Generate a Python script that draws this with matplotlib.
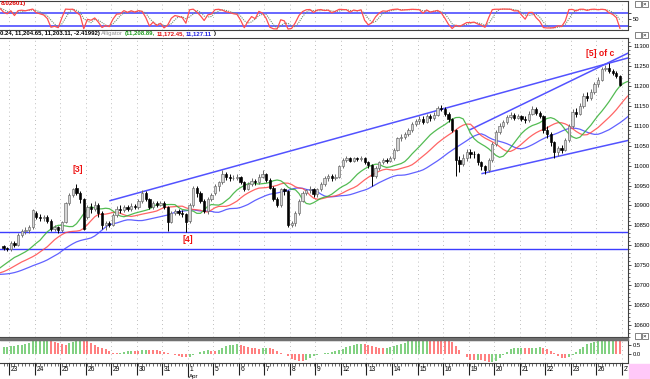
import numpy as np
import pandas as pd
import matplotlib
matplotlib.use("Agg")
import matplotlib.pyplot as plt
from matplotlib.patches import Rectangle

plt.rcParams['font.family'] = ['Liberation Sans', 'DejaVu Sans']

# hourly bars, Mar 22 (last 2 bars) .. Apr 26
opens = [10798, 10792,
         10790, 10805, 10800, 10825, 10835, 10838, 10845,   # Mar 23
         10880, 10872, 10868, 10870, 10862, 10840, 10845,   # Mar 24
         10838, 10858, 10905, 10925, 10945, 10930, 10915,   # Mar 25
         10870, 10895, 10890, 10902, 10880, 10850, 10855,   # Mar 26
         10852, 10875, 10892, 10888, 10895, 10890, 10898,   # Mar 29
         10895, 10910, 10930, 10915, 10895, 10905, 10900,   # Mar 30
         10905, 10895, 10858, 10880, 10885, 10882, 10878,   # Mar 31
         10860, 10900, 10945, 10930, 10910, 10885, 10915,   # Apr 1
         10930, 10950, 10958, 10980, 10972, 10968, 10970,   # Apr 5
         10972, 10960, 10942, 10955, 10962, 10958, 10972,   # Apr 6
         10978, 10965, 10945, 10915, 10900, 10940, 10935,   # Apr 7
         10852, 10855, 10880, 10912, 10930, 10938, 10942,   # Apr 8
         10928, 10940, 10955, 10968, 10975, 10968, 10972,   # Apr 9
         10998, 11015, 11018, 11012, 11018, 11016, 11020,   # Apr 12
         11008, 11002, 10975, 10995, 11008, 11015, 11012,   # Apr 13
         11018, 11040, 11068, 11072, 11078, 11090, 11105,   # Apr 14
         11112, 11118, 11110, 11125, 11120, 11128, 11145,   # Apr 15
         11142, 11130, 11118, 11090, 11015, 11005, 11020,   # Apr 16
         11035, 11030, 11028, 11008, 10998, 10988, 11015,   # Apr 19
         11055, 11085, 11100, 11110, 11122, 11128, 11120,   # Apr 20
         11125, 11118, 11115, 11130, 11142, 11132, 11125,   # Apr 21
         11090, 11078, 11060, 11035, 11045, 11040, 11065,   # Apr 22
         11100, 11135, 11130, 11150, 11175, 11170, 11185,   # Apr 23
         11205, 11215, 11242, 11245, 11238, 11232, 11225]   # Apr 26
highs = [10802, 10797,
         10810, 10812, 10830, 10840, 10845, 10850, 10892,
         10885, 10878, 10876, 10875, 10865, 10850, 10848,
         10862, 10908, 10930, 10945, 10953, 10935, 10918,
         10900, 10905, 10912, 10905, 10885, 10860, 10862,
         10880, 10898, 10900, 10902, 10900, 10905, 10904,
         10915, 10938, 10935, 10918, 10910, 10910, 10910,
         10910, 10898, 10885, 10892, 10890, 10888, 10882,
         10905, 10950, 10948, 10935, 10915, 10920, 10930,
         10955, 10962, 10990, 10984, 10978, 10976, 10978,
         10975, 10962, 10960, 10968, 10966, 10978, 10990,
         10982, 10968, 10948, 10920, 10945, 10945, 10938,
         10862, 10885, 10916, 10936, 10942, 10948, 10945,
         10945, 10960, 10975, 10980, 10980, 10978, 11002,
         11020, 11023, 11022, 11022, 11022, 11024, 11022,
         11012, 11005, 11000, 11012, 11020, 11020, 11024,
         11045, 11072, 11080, 11084, 11095, 11110, 11118,
         11124, 11124, 11130, 11130, 11135, 11150, 11152,
         11148, 11135, 11120, 11092, 11025, 11028, 11042,
         11042, 11036, 11032, 11012, 11002, 11020, 11060,
         11090, 11106, 11115, 11128, 11135, 11132, 11130,
         11128, 11124, 11136, 11150, 11146, 11138, 11128,
         11100, 11085, 11062, 11050, 11052, 11070, 11105,
         11142, 11145, 11156, 11182, 11185, 11192, 11210,
         11222, 11248, 11252, 11258, 11242, 11236, 11228]
lows = [10788, 10785,
        10786, 10795, 10798, 10820, 10828, 10832, 10842,
        10865, 10860, 10862, 10855, 10835, 10835, 10832,
        10834, 10855, 10900, 10920, 10925, 10905, 10838,
        10865, 10882, 10885, 10870, 10840, 10838, 10845,
        10848, 10870, 10882, 10884, 10885, 10886, 10890,
        10890, 10905, 10910, 10890, 10890, 10895, 10898,
        10890, 10835, 10855, 10875, 10876, 10870, 10834,
        10855, 10895, 10922, 10905, 10880, 10878, 10910,
        10925, 10935, 10955, 10965, 10962, 10963, 10965,
        10955, 10936, 10938, 10950, 10952, 10955, 10968,
        10960, 10940, 10910, 10895, 10895, 10925, 10845,
        10845, 10848, 10876, 10908, 10925, 10932, 10922,
        10922, 10935, 10950, 10962, 10962, 10963, 10968,
        10995, 11010, 11008, 11010, 11012, 11012, 11004,
        10995, 10950, 10968, 10990, 11004, 11006, 11008,
        11015, 11036, 11062, 11066, 11074, 11085, 11100,
        11105, 11104, 11106, 11112, 11114, 11124, 11136,
        11125, 11110, 11085, 10975, 10985, 10998, 11012,
        11020, 11018, 11002, 10990, 10980, 10984, 11010,
        11050, 11080, 11095, 11105, 11118, 11115, 11116,
        11112, 11108, 11110, 11126, 11126, 11120, 11082,
        11070, 11050, 11020, 11025, 11032, 11036, 11060,
        11095, 11122, 11126, 11145, 11162, 11165, 11180,
        11198, 11212, 11236, 11232, 11226, 11220, 11200]
closes = [10792, 10790,
          10805, 10800, 10825, 10835, 10838, 10845, 10888,
          10872, 10868, 10870, 10862, 10840, 10845, 10838,
          10858, 10905, 10925, 10940, 10930, 10915, 10842,
          10895, 10890, 10902, 10880, 10850, 10855, 10850,
          10875, 10892, 10888, 10895, 10890, 10898, 10895,
          10910, 10930, 10915, 10895, 10905, 10900, 10905,
          10895, 10858, 10880, 10885, 10882, 10878, 10858,
          10900, 10945, 10930, 10910, 10885, 10915, 10925,
          10950, 10958, 10980, 10972, 10968, 10970, 10972,
          10960, 10942, 10955, 10962, 10958, 10972, 10978,
          10965, 10945, 10915, 10900, 10940, 10935, 10852,
          10855, 10880, 10912, 10930, 10938, 10942, 10928,
          10940, 10955, 10968, 10975, 10968, 10972, 10998,
          11015, 11018, 11012, 11018, 11016, 11020, 11008,
          11002, 10975, 10995, 11008, 11015, 11012, 11018,
          11040, 11068, 11072, 11078, 11090, 11105, 11112,
          11118, 11110, 11125, 11120, 11128, 11145, 11142,
          11130, 11118, 11090, 11015, 11005, 11020, 11035,
          11030, 11028, 11008, 10998, 10988, 11015, 11055,
          11085, 11100, 11110, 11122, 11128, 11120, 11125,
          11118, 11115, 11130, 11142, 11132, 11125, 11090,
          11078, 11060, 11035, 11045, 11040, 11065, 11100,
          11135, 11130, 11150, 11175, 11170, 11185, 11205,
          11215, 11242, 11245, 11238, 11232, 11225, 11203]

# earlier bars (off the left edge), estimated from where the lines enter
pre_median = [10730, 10726, 10722, 10725, 10728, 10724, 10720, 10723, 10727,
              10730, 10726, 10722, 10725, 10729, 10732, 10728, 10724, 10727,
              10733, 10738, 10745, 10755, 10766, 10776, 10784, 10790]

day_labels = ['23', '24', '25', '26', '29', '30', '31', '1', '5', '6', '7', '8',
              '9', '12', '13', '14', '15', '16', '19', '20', '21', '22', '23',
              '26', '27']
price_ticks = list(range(10600, 11301, 50))

levels = [10834, 10790]
trend_lines = [((29.2, 10912), (171.2, 11270)),
               ((127.9, 11090), (171.2, 11282)),
               ((131.2, 10980), (171.2, 11063))]
wave_labels = [('[3]', 20.3, 10989), ('[4]', 50.4, 10815), ('[5] of c', 163.5, 11280)]

header = "0.24, 11,204.65, 11,203.11, -2.41992)"
alligator_vals = ['(11,208.89,', '11,172.45,', '11,127.11']
stoch_last = "8.02601)"

W, H = 650, 379


def box(x0, y0, x1, y1):
    return [x0 / W, 1 - y1 / H, (x1 - x0) / W, (y1 - y0) / H]


o = np.array(opens, float)
h = np.array(highs, float)
l = np.array(lows, float)
c = np.array(closes, float)
n = len(c)
x = np.arange(n)
xlim = (-0.965, 171.2)
day_x = 1.5 + 7 * np.arange(len(day_labels))

blue = '#4646ff'
red = '#ff4a4a'
green = '#35b035'
grid_kw = dict(color='#a8a8a8', lw=0.6, ls=(0, (1, 4)), zorder=0)

fig = plt.figure(figsize=(6.5, 3.79), dpi=100)
fig.patch.set_facecolor('white')


def style(ax):
    ax.set_xlim(*xlim)
    ax.set_xticks([])
    ax.spines['left'].set_visible(False)
    for s in ['top', 'bottom', 'right']:
        ax.spines[s].set_color('#404040')
        ax.spines[s].set_linewidth(0.8)
    ax.yaxis.tick_right()
    ax.tick_params(axis='y', labelsize=4.2, length=2.5, width=0.5, pad=1.2, colors='black')
    for dx in day_x:
        ax.axvline(dx, **grid_kw)


# ---- stochastic panel
med_all = np.concatenate([pre_median, (h + l) / 2])
P = len(pre_median)
hi_all = pd.Series(np.concatenate([pre_median, h]))
lo_all = pd.Series(np.concatenate([pre_median, l]))
cl_all = pd.Series(np.concatenate([pre_median, c]))
hh = hi_all.rolling(7, min_periods=1).max()
ll = lo_all.rolling(7, min_periods=1).min()
k = (100 * (cl_all - ll) / (hh - ll).replace(0, np.nan)).fillna(50)
d = k.rolling(3, min_periods=1).mean()
xa = np.arange(len(med_all)) - P

ax_s = fig.add_axes(box(0, 1, 628, 29.5))
style(ax_s)
ax_s.set_ylim(3, 133)
ax_s.axhline(80, color='#5a5aff', lw=1.3, zorder=1)
ax_s.axhline(20, color='#5a5aff', lw=1.3, zorder=1)
ax_s.plot(xa, d, color='#6f8f6f', lw=0.8, ls=(0, (1, 1)), zorder=2)
ax_s.plot(xa, k, color='#ff5050', lw=0.9, zorder=3)
ax_s.set_yticks([20, 50, 80])
ax_s.set_yticklabels(['', '50', ''])
fig.text(1 / W, 1 - 3.5 / H, stoch_last, color='#e00000', fontsize=4.6, weight='bold', va='center')

# ---- header strip, pieces placed one after the other
fs = 4.3
renderer = fig.canvas.get_renderer()
pieces = [(header, 'black', 'bold'), ('Alligator', '#909090', 'normal')]
pieces += list(zip(alligator_vals, ['#1a9a1a', '#e01010', '#2020e0'], ['bold'] * 3))
pieces += [(')', 'black', 'bold')]
xp = 0.0
for txt, col, wt in pieces:
    t = fig.text(xp / W, 1 - 34 / H, txt, fontsize=fs, color=col, weight=wt, va='center')
    xp = t.get_window_extent(renderer).x1 + 1.5

# ---- main price panel
ax = fig.add_axes(box(0, 38, 628, 337))
style(ax)
ax.set_ylim(10570, 11320)
ax.set_yticks(price_ticks)
ax.set_yticklabels([str(t) for t in price_ticks])
ax.set_yticks(range(10570, 11320, 10), minor=True)
ax.tick_params(axis='y', which='minor', length=1.2, width=0.4)

for lv in levels:
    ax.axhline(lv, color='#3c3cff', lw=1.0, zorder=2)
for (x0, y0), (x1, y1) in trend_lines:
    ax.plot([x0, x1], [y0, y1], color='#5252ff', lw=1.1, zorder=2)

s = pd.Series(med_all)
for per, shift, col in [(13, 8, blue), (8, 5, red), (5, 3, green)]:
    sm = s.ewm(alpha=1 / per, adjust=False).mean().to_numpy()
    ax.plot(xa + shift, sm, color=col, lw=0.9, alpha=0.85, zorder=3)

up = c >= o
bot = np.minimum(o, c)
body = np.maximum(np.abs(c - o), 1.6)
ax.vlines(x[up], l[up], h[up], color='#6a6a6a', lw=0.7, zorder=4)
ax.vlines(x[~up], l[~up], h[~up], color='black', lw=0.7, zorder=4)
ax.bar(x[up], body[up], bottom=bot[up], width=0.62, color='#d6d6d6',
       edgecolor='#666666', lw=0.45, zorder=5)
ax.bar(x[~up], body[~up], bottom=bot[~up], width=0.62, color='black',
       edgecolor='black', lw=0.45, zorder=5)

for txt, xi, yp in wave_labels:
    ax.text(xi, yp, txt, color='#ee1010', fontsize=6.2, weight='bold',
            ha='center', va='center', zorder=6)

# separator
fig.patches.append(Rectangle((0, 1 - 339.5 / H), 628 / W, 2 / H, transform=fig.transFigure,
                             color='#707070', zorder=0))

# ---- histogram panel
sma5 = s.rolling(5, min_periods=1).mean()
sma34 = s.rolling(34, min_periods=1).mean()
ao = ((sma5 - sma34) / sma34 * 100).to_numpy()[P:]
rising = np.diff(ao, prepend=ao[0] - 1) >= 0

ax_h = fig.add_axes(box(0, 340, 628, 363))
style(ax_h)
ax_h.set_ylim(-0.5, 0.8)
ax_h.vlines(x[rising], 0, ao[rising], color='#5cc45c', lw=1.1, zorder=2)
ax_h.vlines(x[~rising], 0, ao[~rising], color='#ff5a5a', lw=1.1, zorder=2)
ax_h.set_yticks([0, 0.5])
ax_h.set_yticklabels(['0.0', '0.5'])

# ---- date axis
ax_d = fig.add_axes(box(0, 363, 628, 379))
ax_d.set_xlim(*xlim)
ax_d.set_ylim(16, 0)
ax_d.axis('off')
ax_d.vlines(x, 0, 2.5, color='#303030', lw=0.5)
for dx, lab in zip(day_x, day_labels):
    ax_d.vlines(dx, 0, 12 if lab != '1' else 14, color='#202020', lw=0.8)
    ax_d.text(dx + 0.5, 6.5, lab, fontsize=4.8, va='center', ha='left', clip_on=True)
ax_d.text(day_x[7] + 0.3, 13.8, 'Apr', fontsize=4.4, va='center', ha='left')

# pink corner and small window buttons
fig.patches.append(Rectangle((629 / W, 0), 21 / W, 15 / H, transform=fig.transFigure,
                             color='#ffc8f8', zorder=0))
for yb in [1, 32, 333]:
    for xb in [635, 642]:
        fig.patches.append(Rectangle((xb / W, 1 - (yb + 5.5) / H), 5.5 / W, 5.5 / H,
                                     transform=fig.transFigure, facecolor='white',
                                     edgecolor='#505050', lw=0.5))
    fig.text(644.8 / W, 1 - (yb + 2.9) / H, '×', fontsize=4.5, ha='center', va='center')

fig.savefig('out.png', dpi=100)
